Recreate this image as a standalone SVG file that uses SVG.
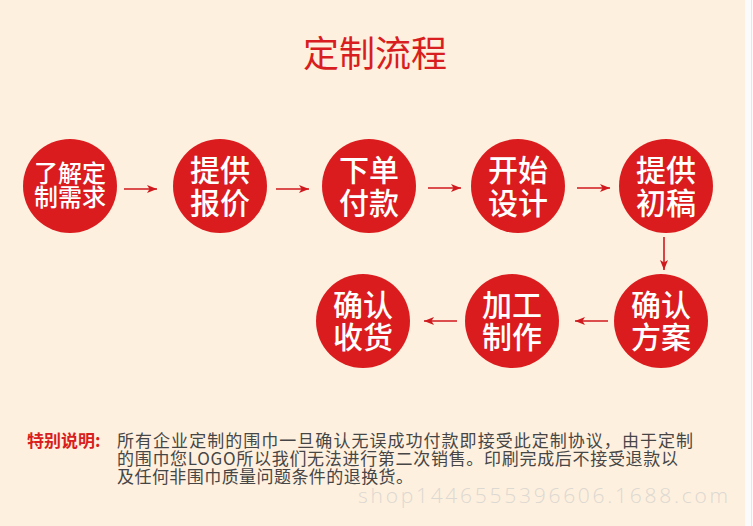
<svg xmlns="http://www.w3.org/2000/svg" width="753" height="526" viewBox="0 0 753 526">
<defs>
<style>
.bg{fill:#fef0de}
.node circle{fill:#da1c1f}
.node text{fill:#ffffff;font-family:"Noto Sans CJK SC","Noto Sans",sans-serif;font-size:30px;font-weight:500;text-anchor:middle}
.node text.s{font-size:24px}
.conn line{stroke:#d0191e;stroke-width:1.6}
.title{fill:#d81e20;font-family:"Noto Sans CJK SC","Noto Sans",sans-serif;font-size:36px;text-anchor:middle}
.note{fill:#464646;font-family:"Noto Sans CJK SC","Noto Sans",sans-serif;font-size:17px}
.lab{fill:#d81e20;font-family:"Noto Sans CJK SC","Noto Sans",sans-serif;font-size:17px;font-weight:bold}
.wm{fill:#dcd8d2;font-family:"Open Sans","Noto Sans",sans-serif;font-size:21px;font-weight:300}
</style>
<marker id="ah" viewBox="0 0 10 8" refX="10" refY="4" markerWidth="10" markerHeight="8" markerUnits="userSpaceOnUse" orient="auto">
<path d="M0,0 L10,4 L0,8 L2.5,4 Z" fill="#d0191e"/>
</marker>
</defs>
<rect class="bg" x="0" y="0" width="753" height="526"/>
<rect x="745" y="0" width="8" height="526" fill="#fbfbfb"/>
<rect x="751" y="0" width="1" height="526" fill="#e2e7ea"/>
<text class="title" x="375" y="67">定制流程</text>
<g id="n1" class="node"><circle cx="70" cy="186" r="47"/><text class="s" x="70" y="182">了解定</text><text class="s" x="70" y="206">制需求</text></g>
<g id="n2" class="node"><circle cx="220" cy="186" r="47"/><text x="220" y="181">提供</text><text x="220" y="214">报价</text></g>
<g id="n3" class="node"><circle cx="369" cy="186" r="47"/><text x="369" y="181">下单</text><text x="369" y="214">付款</text></g>
<g id="n4" class="node"><circle cx="518" cy="186" r="47"/><text x="518" y="181">开始</text><text x="518" y="214">设计</text></g>
<g id="n5" class="node"><circle cx="666" cy="186" r="47"/><text x="666" y="181">提供</text><text x="666" y="214">初稿</text></g>
<g id="n6" class="node"><circle cx="661" cy="321" r="47"/><text x="661" y="316">确认</text><text x="661" y="348">方案</text></g>
<g id="n7" class="node"><circle cx="512" cy="321" r="47"/><text x="512" y="316">加工</text><text x="512" y="348">制作</text></g>
<g id="n8" class="node"><circle cx="363" cy="321" r="47"/><text x="363" y="316">确认</text><text x="363" y="348">收货</text></g>
<g id="connectors" class="conn">
<line x1="124" y1="189" x2="157" y2="189" marker-end="url(#ah)"/>
<line x1="276" y1="189" x2="309" y2="189" marker-end="url(#ah)"/>
<line x1="428" y1="188" x2="461" y2="188" marker-end="url(#ah)"/>
<line x1="577" y1="188" x2="610" y2="188" marker-end="url(#ah)"/>
<line x1="664" y1="237" x2="664" y2="270" marker-end="url(#ah)"/>
<line x1="608" y1="321" x2="575" y2="321" marker-end="url(#ah)"/>
<line x1="457" y1="321" x2="424" y2="321" marker-end="url(#ah)"/>
</g>
<text class="lab" x="27" y="447">特别说明:</text>
<text class="note" x="117" y="447" textLength="576" lengthAdjust="spacing">所有企业定制的围巾一旦确认无误成功付款即接受此定制协议，由于定制</text>
<text class="note" x="117" y="465" textLength="561" lengthAdjust="spacing">的围巾您LOGO所以我们无法进行第二次销售。印刷完成后不接受退款以</text>
<text class="note" x="117" y="483" textLength="296" lengthAdjust="spacing">及任何非围巾质量问题条件的退换货。</text>
<text class="wm" x="358" y="503" textLength="370" lengthAdjust="spacing">shop1446555396606.1688.com</text>
</svg>
